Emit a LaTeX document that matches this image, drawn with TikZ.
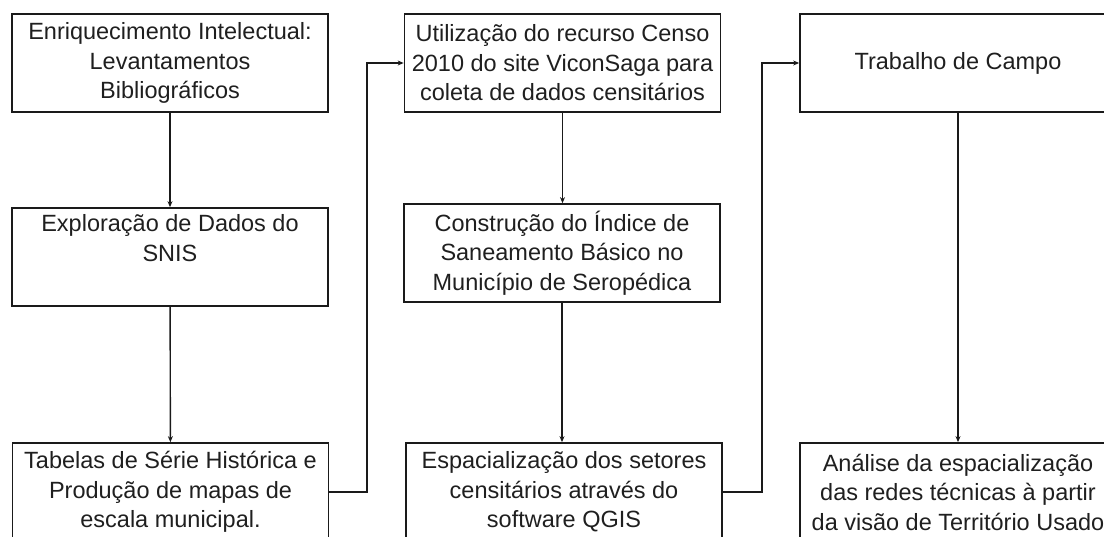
\documentclass[tikz,border=0pt]{standalone}
\usepackage{fontspec}
\setmainfont{Liberation Sans}
\usetikzlibrary{arrows.meta}
\definecolor{txt}{HTML}{1F1F1F}
\definecolor{ln}{HTML}{1A1A1A}
\begin{document}
\begin{tikzpicture}[x=1pt,y=-1pt,
  box/.style={draw=ln,line width=1.7pt,rectangle,minimum width=316pt,minimum height=98pt,
    inner sep=0pt,align=center,text=txt,font=\fontsize{23.5}{29.5}\selectfont},
  conn/.style={draw=ln,line width=1.4pt,-{Stealth[length=6pt,width=5pt]}}]
\useasboundingbox (0,0) rectangle (1104,537);
\clip (0,0) rectangle (1104,537);
\node[box] (b1) at (170,63) {Enriquecimento Intelectual:\\Levantamentos\\Bibliográficos};
\node[box] (b2) at (170,257) {Exploração de Dados do\\SNIS\\\strut};
\node[box] (b3) at (170.5,492) {Tabelas de Série Histórica e\\Produção de mapas de\\escala municipal.};
\node[box] (b4) at (562.5,63) {Utilização do recurso Censo\\2010 do site ViconSaga para\\coleta de dados censitários};
\node[box] (b5) at (562,253) {Construção do Índice de\\Saneamento Básico no\\Município de Seropédica};
\node[box] (b6) at (564,492) {Espacialização dos setores\\censitários através do\\software QGIS};
\node[box] (b7) at (958,63) {Trabalho de Campo};
\node[box] (b8) at (958,492) {Análise da espacialização\\das redes técnicas à partir\\da visão de Território Usado};
\coordinate (c1) at (367,0);
\coordinate (c2) at (762,0);
\draw[conn] (b1) -- (b2);
\draw[conn] (b2) -- (b3);
\draw[conn] (b3.east) -- (b3.east -| c1) -- (b4.west -| c1) -- (b4.west);
\draw[conn] (b4.south) -- (b5.north -| b4.south);
\draw[conn] (b5.south) -- (b6.north -| b5.south);
\draw[conn] (b6.east) -- (b6.east -| c2) -- (b7.west -| c2) -- (b7.west);
\draw[conn] (b7) -- (b8);
\end{tikzpicture}
\end{document}
